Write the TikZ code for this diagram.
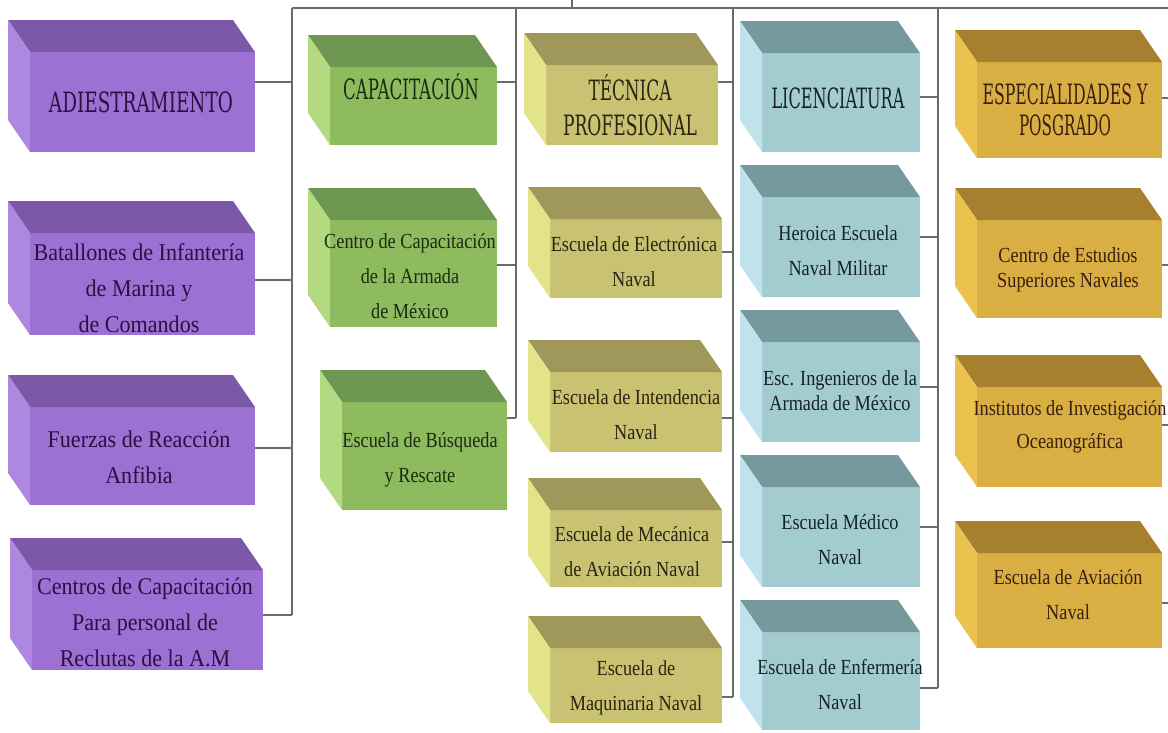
\documentclass[tikz,border=0pt]{standalone}
\usepackage{fontspec}
\usepackage{graphicx}
\setmainfont{Liberation Serif}
\newfontfamily\hfont{DejaVu Serif}
\newfontfamily\pfont[FakeStretch=0.92]{Liberation Serif}
\newfontfamily\bfont[FakeStretch=0.85]{Liberation Serif}
% colours: F front, T top, L left side, X text
\definecolor{purF}{HTML}{9D70D3}\definecolor{purT}{HTML}{7B58A8}\definecolor{purL}{HTML}{AC88E0}\definecolor{purX}{HTML}{2A1240}
\definecolor{grnF}{HTML}{8DBB5E}\definecolor{grnT}{HTML}{6E9752}\definecolor{grnL}{HTML}{B3DA80}\definecolor{grnX}{HTML}{1C2A12}
\definecolor{olvF}{HTML}{C9C273}\definecolor{olvT}{HTML}{9F985A}\definecolor{olvL}{HTML}{E3E38A}\definecolor{olvX}{HTML}{2A2410}
\definecolor{teaF}{HTML}{A3CCD1}\definecolor{teaT}{HTML}{76999E}\definecolor{teaL}{HTML}{BFE3EA}\definecolor{teaX}{HTML}{15222A}
\definecolor{gldF}{HTML}{D9AE43}\definecolor{gldT}{HTML}{A7802F}\definecolor{gldL}{HTML}{EBC24D}\definecolor{gldX}{HTML}{3A1E10}
\definecolor{lineC}{HTML}{6A6A6A}
% heading: slab serif caps squeezed to a given width, natural height kept
\newcommand{\hd}[2]{\resizebox{#1pt}{\height}{\hfont\fontsize{28}{28}\selectfont #2}}
\newcommand{\mycube}[9]{%
  \node[cubefront, fill=#6F, minimum width={(#4)-(#2)}, minimum height={(#5)-(#3)}] (#1) at (#2,#3) {};
  \fill[#6T] (#1.north west) -- (#1.north east) -- ++(-22,-32) -- ([shift={(-22,-32)}]#1.north west) -- cycle;
  \fill[#6L] (#1.north west) -- ([shift={(-22,-32)}]#1.north west) -- ([shift={(-22,-32)}]#1.south west) -- (#1.south west) -- cycle;
  \node[cubetext, #6font, text=#6X] (#1t) at (#7,#8) {#9};
}
\newcommand{\stub}[3]{\coordinate (s#1) at (#2,#3); \draw[conn] (s#1 -| #1.east) -- (s#1);}
\tikzset{
  cubefront/.style={anchor=north west, inner sep=0pt, outer sep=0pt, draw=none},
  cubetext/.style={align=center, inner sep=0pt},
  purfont/.style={font=\pfont\fontsize{24}{36}\selectfont},
  grnfont/.style={font=\bfont\fontsize{21.5}{35}\selectfont},
  olvfont/.style={font=\bfont\fontsize{21.5}{35}\selectfont},
  teafont/.style={font=\bfont\fontsize{21.5}{35}\selectfont},
  gldfont/.style={font=\bfont\fontsize{21.5}{35}\selectfont},
  conn/.style={draw=lineC, line width=1.3pt},
}
\begin{document}
\begin{tikzpicture}[x=1pt, y=-1pt]
\fill[white] (0,0) rectangle (1168,732);
\useasboundingbox (0,0) rectangle (1168,732);

% purple column
\mycube{adi}{30}{52}{255}{152}{pur}{141}{102}{\hd{184}{ADIESTRAMIENTO}}
\mycube{bat}{30}{233}{255}{335}{pur}{139}{288}{Batallones de Infantería\\de Marina y\\de Comandos}
\mycube{fue}{30}{407}{255}{505}{pur}{139}{457}{Fuerzas de Reacción\\Anfibia}
\mycube{cen}{32}{570}{263}{670}{pur}{145}{622}{Centros de Capacitación\\Para personal de\\Reclutas de la A.M}

% green column
\mycube{cap}{330}{67}{497}{145}{grn}{411}{87}{\hd{136}{CAPACITACIÓN}}
\mycube{cca}{330}{220}{497}{327}{grn}{410}{276}{Centro de Capacitación\\de la Armada\\de México}
\mycube{bsq}{342}{402}{507}{510}{grn}{420}{460}{Escuela de Búsqueda\\y Rescate}

% olive column
\mycube{tec}{546}{65}{718}{145}{olv}{630}{105}{\hd{83}{TÉCNICA}\\\hd{134}{PROFESIONAL}}
\mycube{ele}{550}{219}{722}{298}{olv}{634}{262}{Escuela de Electrónica\\Naval}
\mycube{int}{550}{372}{722}{452}{olv}{636}{415}{Escuela de Intendencia\\Naval}
\mycube{mec}{550}{510}{722}{587}{olv}{632}{552}{Escuela de Mecánica\\de Aviación Naval}
\mycube{maq}{550}{648}{722}{723}{olv}{636}{688}{Escuela de\\Maquinaria Naval}

% teal column
\mycube{lic}{762}{53}{920}{152}{tea}{838}{98}{\hd{133}{LICENCIATURA}}
\mycube{her}{762}{197}{920}{297}{tea}{838}{251}{Heroica Escuela\\Naval Militar}
\mycube{ing}{762}{342}{920}{442}{tea}{840}{391}{Esc. Ingenieros de la\\[-10pt]Armada de México}
\mycube{med}{762}{487}{920}{587}{tea}{840}{540}{Escuela Médico\\Naval}
\mycube{enf}{762}{632}{920}{730}{tea}{840}{685}{Escuela de Enfermería\\Naval}

% gold column
\mycube{esp}{977}{62}{1162}{158}{gld}{1065}{110}{\hd{165}{ESPECIALIDADES Y}\\[-4pt]\hd{92}{POSGRADO}}
\mycube{ces}{977}{220}{1162}{318}{gld}{1068}{270}{Centro de Estudios\\[-10pt]Superiores Navales}
\mycube{ins}{977}{387}{1162}{487}{gld}{1070}{427}{Institutos de Investigación\\[-2pt]Oceanográfica}
\mycube{avi}{977}{553}{1162}{648}{gld}{1068}{595}{Escuela de Aviación\\Naval}

% connectors
\coordinate (b1t) at (292,8);
\coordinate (b2t) at (516,8);
\coordinate (b3t) at (733,8);
\coordinate (b4t) at (938,8);
\coordinate (b5t) at (1168,8);
\coordinate (tk) at (572,0);
\coordinate (tkb) at (572,8);
\draw[conn] (b1t) -- (b5t);
\draw[conn] (tk) -- (tkb);

\stub{adi}{292}{82}\stub{bat}{292}{280}\stub{fue}{292}{448}\stub{cen}{292}{615}
\stub{cap}{516}{82}\stub{cca}{516}{265}\stub{bsq}{516}{418}
\stub{tec}{733}{82}\stub{ele}{733}{252}\stub{int}{733}{418}\stub{mec}{733}{542}\stub{maq}{733}{697}
\stub{lic}{938}{97}\stub{her}{938}{237}\stub{ing}{938}{387}\stub{med}{938}{527}\stub{enf}{938}{688}
\stub{esp}{1168}{98}\stub{ces}{1168}{265}\stub{ins}{1168}{425}\stub{avi}{1168}{603}

\draw[conn] (b1t) -- (scen);
\draw[conn] (b2t) -- (sbsq);
\draw[conn] (b3t) -- (smaq);
\draw[conn] (b4t) -- (senf);
\end{tikzpicture}
\end{document}
